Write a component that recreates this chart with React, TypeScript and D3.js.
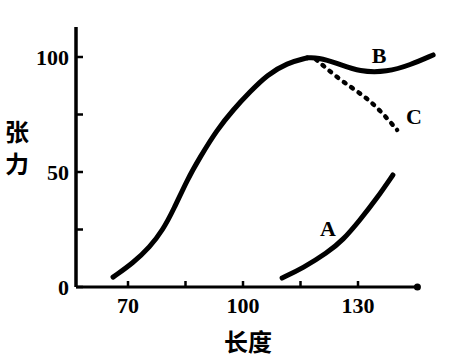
import { useEffect, useRef } from 'react';
import * as d3 from 'd3';

type Pt = [number, number];

// 主曲线（上升段 + B）
const curveRise: Pt[] = [
  [66.1, 4.3], [71.3, 10.4], [75.7, 17.4], [79.1, 24.8], [82, 34],
  [85.4, 46.5], [88.8, 56.5], [93.2, 68.3], [97.4, 77], [101.8, 84.8],
  [106.3, 92.2], [111.5, 97.4], [116.7, 99.6],
];
const curveB: Pt[] = [
  [116.7, 99.6], [119.5, 99.8], [124.5, 97.4], [130.5, 93.5], [137.6, 93.5],
  [143.6, 96.5], [149.6, 100.9],
];
const curveC: Pt[] = [
  [119, 99], [125.3, 90], [131.3, 83.5], [135.7, 77], [140.2, 68.3],
];
const curveA: Pt[] = [
  [110.2, 3.9], [115.7, 8.3], [121.9, 14.8], [126.1, 20.4], [130.5, 29.1],
  [135, 38.7], [139.1, 48.7],
];

const xTicks = [70, 85, 100, 115, 130];
const xLabels = [70, 100, 130];
const yTicks = [0, 25, 50, 75, 100];
const yLabels = [0, 50, 100];

export default function App() {
  const svgRef = useRef<SVGSVGElement>(null);

  useEffect(() => {
    if (!svgRef.current) return;
    const svg = d3.select(svgRef.current);
    svg.selectAll('*').remove();

    const x = d3.scaleLinear().domain([70, 130]).range([128, 358]);
    const y = d3.scaleLinear().domain([0, 100]).range([287, 57]);
    const x0 = 76;
    const xEnd = x(145.5);
    const yTop = y(113);

    const numFont = '"Liberation Serif", "DejaVu Serif", serif';
    const cjkFont = '"Noto Sans CJK SC", sans-serif';

    // 坐标轴
    svg.append('line')
      .attr('x1', x0).attr('x2', x0)
      .attr('y1', yTop).attr('y2', y(0))
      .attr('stroke', '#000').attr('stroke-width', 3.5);
    svg.append('line')
      .attr('x1', x0).attr('x2', xEnd)
      .attr('y1', y(0)).attr('y2', y(0))
      .attr('stroke', '#000').attr('stroke-width', 3);
    svg.append('circle')
      .attr('cx', xEnd).attr('cy', y(0)).attr('r', 3.5).attr('fill', '#000');

    svg.selectAll('.ytick').data(yTicks).enter().append('line')
      .attr('x1', x0).attr('x2', x0 + 7)
      .attr('y1', d => y(d)).attr('y2', d => y(d))
      .attr('stroke', '#000').attr('stroke-width', 2.5);
    svg.selectAll('.xtick').data(xTicks).enter().append('line')
      .attr('x1', d => x(d)).attr('x2', d => x(d))
      .attr('y1', y(0)).attr('y2', y(0) - 6)
      .attr('stroke', '#000').attr('stroke-width', 2.5);

    svg.selectAll('.ylab').data(yLabels).enter().append('text')
      .attr('x', 69).attr('y', d => y(d) + 8)
      .attr('text-anchor', 'end')
      .attr('font-family', numFont).attr('font-weight', 'bold').attr('font-size', 22)
      .text(d => d);
    svg.selectAll('.xlab').data(xLabels).enter().append('text')
      .attr('x', d => x(d)).attr('y', y(0) + 26)
      .attr('text-anchor', 'middle')
      .attr('font-family', numFont).attr('font-weight', 'bold').attr('font-size', 22)
      .text(d => d);

    // 纵轴标题（竖排）
    svg.append('text')
      .attr('x', 17).attr('y', 120)
      .style('writing-mode', 'vertical-rl')
      .style('letter-spacing', '8px')
      .attr('font-family', cjkFont).attr('font-weight', 'bold').attr('font-size', 24)
      .text('张力');
    svg.append('text')
      .attr('x', 248).attr('y', 351)
      .attr('text-anchor', 'middle')
      .attr('font-family', cjkFont).attr('font-weight', 'bold').attr('font-size', 24)
      .text('长度');

    // 曲线
    const line = d3.line<Pt>()
      .x(d => x(d[0]))
      .y(d => y(d[1]))
      .curve(d3.curveBasis);

    const draw = (data: Pt[], dash?: string) => {
      svg.append('path')
        .datum(data)
        .attr('fill', 'none')
        .attr('stroke', '#000')
        .attr('stroke-width', dash ? 4.5 : 5)
        .attr('stroke-linecap', 'round')
        .attr('stroke-dasharray', dash ?? null)
        .attr('d', line);
    };
    draw(curveRise);
    draw(curveB);
    draw(curveC, '2,7');
    draw(curveA);

    const lab = (t: string, px: number, py: number) => {
      svg.append('text')
        .attr('x', px).attr('y', py)
        .attr('text-anchor', 'middle')
        .attr('font-family', numFont).attr('font-weight', 'bold').attr('font-size', 22)
        .text(t);
    };
    lab('B', 379, 63);
    lab('C', 414, 124);
    lab('A', 328, 236);
  }, []);

  return (
    <svg
      ref={svgRef}
      width={467}
      height={360}
      style={{ position: 'absolute', left: 0, top: 0, background: '#fff' }}
    />
  );
}
